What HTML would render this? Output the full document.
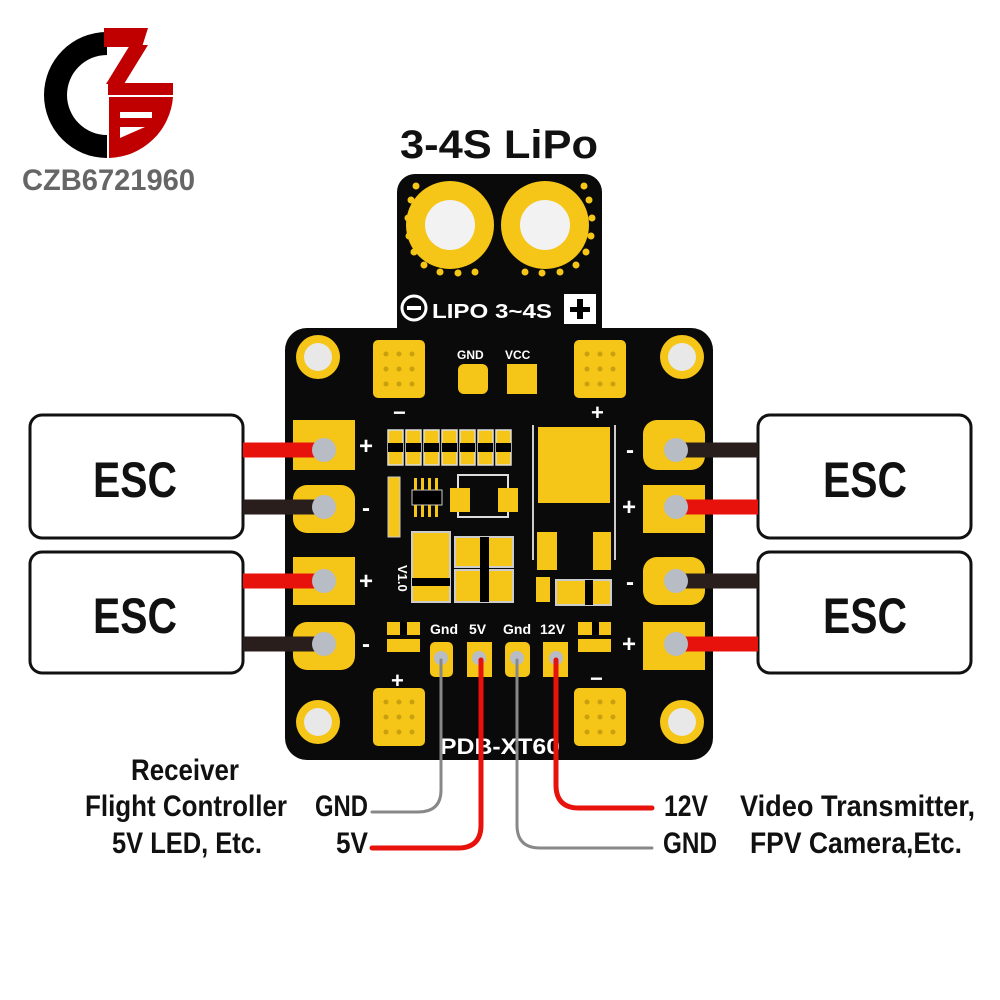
<!DOCTYPE html>
<html><head><meta charset="utf-8"><style>
html,body{margin:0;padding:0;background:#fff;width:1000px;height:1000px;overflow:hidden}
svg{display:block}
text{font-family:"Liberation Sans Narrow","Liberation Sans",sans-serif;font-weight:bold}
</style></head><body>
<svg width="1000" height="1000" viewBox="0 0 1000 1000" xmlns="http://www.w3.org/2000/svg">
<defs>
<g id="pad9">
 <rect x="0" y="0" width="52" height="58" rx="5" fill="#f5c518"/>
 <g fill="#c9a010"><circle cx="13" cy="14" r="2.5"/><circle cx="26" cy="14" r="2.5"/><circle cx="39" cy="14" r="2.5"/><circle cx="13" cy="29" r="2.5"/><circle cx="26" cy="29" r="2.5"/><circle cx="39" cy="29" r="2.5"/><circle cx="13" cy="44" r="2.5"/><circle cx="26" cy="44" r="2.5"/><circle cx="39" cy="44" r="2.5"/></g>
</g>
<g id="hole"><circle r="22" fill="#f5c518"/><circle r="14" fill="#e8e8e8"/></g>
<g id="res"><rect x="0" y="0" width="15" height="35" fill="#f5c518" stroke="#ddd" stroke-width="1.5"/><rect x="0" y="13" width="15" height="9" fill="#000"/></g>
</defs>

<!-- logo -->
<path d="M107 32 A63 63 0 0 0 107 158 L107 135 A40 40 0 0 1 107 55 Z" fill="#000"/>
<polygon points="104,28 148,28 142,47 104,47" fill="#c00000"/>
<polygon points="130,45 148,45 124,84 106,84" fill="#c00000"/>
<rect x="108" y="83" width="65" height="12" fill="#c00000"/>
<path d="M109 97 L173 97 A66 66 0 0 1 109 158 Z" fill="#c00000"/>
<rect x="120" y="112" width="32" height="6" fill="#fff"/>
<polygon points="120,127 145,127 120,138" fill="#fff"/>
<text x="22" y="190" font-size="30" fill="#666" textLength="173" lengthAdjust="spacingAndGlyphs" font-family="Liberation Sans">CZB6721960</text>

<!-- title -->
<text x="400" y="158" font-size="40" fill="#111" textLength="198" lengthAdjust="spacingAndGlyphs">3-4S LiPo</text>

<!-- board -->
<rect x="397" y="174" width="205" height="180" rx="18" fill="#0a0a0a"/>
<rect x="285" y="328" width="428" height="432" rx="22" fill="#0a0a0a"/>

<!-- rings -->
<g fill="#f5c518">
<circle cx="450" cy="225" r="44"/><circle cx="545" cy="225" r="44"/>
</g>
<circle cx="450" cy="225" r="25" fill="#f2f2f2"/><circle cx="545" cy="225" r="25" fill="#f2f2f2"/>
<g fill="#f5c518">
<circle cx="411" cy="200" r="3.5"/><circle cx="408" cy="218" r="3.5"/><circle cx="409" cy="236" r="3.5"/><circle cx="414" cy="252" r="3.5"/><circle cx="424" cy="265" r="3.5"/><circle cx="440" cy="272" r="3.5"/><circle cx="458" cy="273" r="3.5"/><circle cx="416" cy="186" r="3.5"/>
<circle cx="584" cy="186" r="3.5"/><circle cx="589" cy="200" r="3.5"/><circle cx="592" cy="218" r="3.5"/><circle cx="591" cy="236" r="3.5"/><circle cx="586" cy="252" r="3.5"/><circle cx="576" cy="265" r="3.5"/><circle cx="560" cy="272" r="3.5"/><circle cx="542" cy="273" r="3.5"/><circle cx="525" cy="272" r="3.5"/><circle cx="475" cy="272" r="3.5"/>
</g>
<circle cx="414" cy="308" r="12" fill="none" stroke="#fff" stroke-width="3"/>
<rect x="407" y="306" width="14" height="4" fill="#fff"/>
<text x="432" y="318" font-size="20" fill="#fff" font-family="Liberation Sans" textLength="120" lengthAdjust="spacingAndGlyphs">LIPO 3~4S</text>
<rect x="564" y="294" width="32" height="30" fill="#fff"/>
<rect x="570" y="307" width="20" height="5" fill="#000"/><rect x="577" y="299" width="6" height="20" fill="#000"/>

<!-- mount holes -->
<use href="#hole" x="318" y="357"/><use href="#hole" x="682" y="357"/>
<use href="#hole" x="318" y="722"/><use href="#hole" x="682" y="722"/>

<!-- top pads -->
<use href="#pad9" x="373" y="340"/><use href="#pad9" x="574" y="340"/>
<text x="457" y="359" font-size="12" fill="#fff" font-family="Liberation Sans">GND</text>
<text x="505" y="359" font-size="12" fill="#fff" font-family="Liberation Sans">VCC</text>
<rect x="458" y="364" width="30" height="30" rx="6" fill="#f5c518"/>
<rect x="507" y="364" width="30" height="30" fill="#f5c518"/>
<text x="393" y="420" font-size="22" fill="#fff">−</text>
<text x="591" y="420" font-size="22" fill="#fff">+</text>

<!-- ESC boxes -->
<rect x="30" y="415" width="213" height="123" rx="12" fill="#fff" stroke="#111" stroke-width="3"/>
<rect x="30" y="552" width="213" height="121" rx="12" fill="#fff" stroke="#111" stroke-width="3"/>
<rect x="758" y="415" width="213" height="123" rx="12" fill="#fff" stroke="#111" stroke-width="3"/>
<rect x="758" y="552" width="213" height="121" rx="12" fill="#fff" stroke="#111" stroke-width="3"/>
<text x="93" y="497" font-size="50" fill="#111" textLength="84" lengthAdjust="spacingAndGlyphs">ESC</text>
<text x="93" y="633" font-size="50" fill="#111" textLength="84" lengthAdjust="spacingAndGlyphs">ESC</text>
<text x="823" y="497" font-size="50" fill="#111" textLength="84" lengthAdjust="spacingAndGlyphs">ESC</text>
<text x="823" y="633" font-size="50" fill="#111" textLength="84" lengthAdjust="spacingAndGlyphs">ESC</text>

<!-- side pads -->
<g fill="#f5c518">
<rect x="293" y="420" width="62" height="50"/><rect x="293" y="485" width="62" height="48" rx="14"/>
<rect x="293" y="557" width="62" height="48"/><rect x="293" y="622" width="62" height="48" rx="14"/>
<rect x="643" y="420" width="62" height="50" rx="14"/><rect x="643" y="485" width="62" height="48"/>
<rect x="643" y="557" width="62" height="48" rx="14"/><rect x="643" y="622" width="62" height="48"/>
</g>
<!-- wires -->
<g stroke-width="15">
<line x1="243" y1="450" x2="322" y2="450" stroke="#e8120c"/>
<line x1="243" y1="507" x2="322" y2="507" stroke="#2a1e1c"/>
<line x1="243" y1="581" x2="322" y2="581" stroke="#e8120c"/>
<line x1="243" y1="644" x2="322" y2="644" stroke="#2a1e1c"/>
<line x1="678" y1="450" x2="758" y2="450" stroke="#2a1e1c"/>
<line x1="678" y1="507" x2="758" y2="507" stroke="#e8120c"/>
<line x1="678" y1="581" x2="758" y2="581" stroke="#2a1e1c"/>
<line x1="678" y1="644" x2="758" y2="644" stroke="#e8120c"/>
</g>
<g fill="#b8bcc4">
<circle cx="324" cy="450" r="12"/><circle cx="324" cy="507" r="12"/><circle cx="324" cy="581" r="12"/><circle cx="324" cy="644" r="12"/>
<circle cx="676" cy="450" r="12"/><circle cx="676" cy="507" r="12"/><circle cx="676" cy="581" r="12"/><circle cx="676" cy="644" r="12"/>
</g>
<g font-size="24" fill="#fff">
<text x="359" y="454">+</text><text x="362" y="516">-</text><text x="359" y="589">+</text><text x="362" y="652">-</text>
<text x="626" y="458">-</text><text x="622" y="515">+</text><text x="626" y="590">-</text><text x="622" y="652">+</text>
</g>

<!-- center components -->
<use href="#res" x="388" y="430"/><use href="#res" x="406" y="430"/><use href="#res" x="424" y="430"/><use href="#res" x="442" y="430"/><use href="#res" x="460" y="430"/><use href="#res" x="478" y="430"/><use href="#res" x="496" y="430"/>
<rect x="538" y="427" width="72" height="76" fill="#f5c518"/>
<line x1="533" y1="425" x2="533" y2="560" stroke="#ccc" stroke-width="2"/>
<line x1="615" y1="425" x2="615" y2="560" stroke="#ccc" stroke-width="2"/>
<rect x="388" y="477" width="12" height="60" fill="#f5c518" stroke="#ccc"/>
<rect x="412" y="490" width="30" height="15" fill="#000" stroke="#ccc"/>
<g fill="#f5c518"><rect x="414" y="478" width="3" height="12"/><rect x="421" y="478" width="3" height="12"/><rect x="428" y="478" width="3" height="12"/><rect x="435" y="478" width="3" height="12"/><rect x="414" y="505" width="3" height="12"/><rect x="421" y="505" width="3" height="12"/><rect x="428" y="505" width="3" height="12"/><rect x="435" y="505" width="3" height="12"/></g>
<rect x="458" y="475" width="50" height="42" fill="none" stroke="#ddd" stroke-width="2"/>
<rect x="450" y="488" width="20" height="24" fill="#f5c518"/><rect x="498" y="488" width="20" height="24" fill="#f5c518"/>
<rect x="412" y="532" width="38" height="70" fill="#f5c518" stroke="#ccc" stroke-width="2"/>
<rect x="412" y="578" width="38" height="8" fill="#000"/>
<rect x="455" y="537" width="58" height="30" fill="#f5c518" stroke="#ccc" stroke-width="2"/>
<rect x="455" y="570" width="58" height="32" fill="#f5c518" stroke="#ccc" stroke-width="2"/>
<rect x="480" y="537" width="9" height="65" fill="#000"/>
<rect x="537" y="532" width="20" height="38" fill="#f5c518"/><rect x="593" y="532" width="18" height="38" fill="#f5c518"/>
<rect x="536" y="577" width="14" height="25" fill="#f5c518"/>
<rect x="556" y="580" width="55" height="25" fill="#f5c518" stroke="#ccc" stroke-width="2"/>
<rect x="585" y="580" width="8" height="25" fill="#000"/>
<text x="398" y="565" font-size="13" fill="#fff" transform="rotate(90 398 565)" font-family="Liberation Sans">V1.0</text>
<!-- small resistors bottom -->
<g fill="#f5c518"><rect x="387" y="622" width="33" height="13"/><rect x="387" y="639" width="33" height="13"/><rect x="578" y="622" width="33" height="13"/><rect x="578" y="639" width="33" height="13"/></g>
<rect x="400" y="622" width="7" height="13" fill="#000"/><rect x="592" y="622" width="7" height="13" fill="#000"/>
<g font-size="14" fill="#fff" font-family="Liberation Sans">
<text x="430" y="634">Gnd</text><text x="469" y="634">5V</text><text x="503" y="634">Gnd</text><text x="540" y="634">12V</text>
</g>
<g fill="#f5c518"><rect x="430" y="642" width="23" height="35" rx="5"/><rect x="467" y="642" width="25" height="35"/><rect x="505" y="642" width="25" height="35" rx="5"/><rect x="543" y="642" width="25" height="35"/></g>
<g fill="#b8bcc4"><circle cx="441" cy="658" r="7"/><circle cx="479" cy="658" r="7"/><circle cx="517" cy="658" r="7"/><circle cx="556" cy="658" r="7"/></g>
<!-- bottom pads -->
<use href="#pad9" x="373" y="688"/><use href="#pad9" x="574" y="688"/>
<text x="391" y="688" font-size="22" fill="#fff">+</text>
<text x="590" y="686" font-size="22" fill="#fff">−</text>
<text x="440" y="754" font-size="22" fill="#fff" textLength="120" lengthAdjust="spacingAndGlyphs" font-family="Liberation Sans">PDB-XT60</text>

<!-- output wires -->
<g fill="none" stroke-linecap="round">
<path d="M441 660 L441 790 Q441 812 418 812 L372 812" stroke="#888" stroke-width="3"/>
<path d="M517 660 L517 825 Q517 848 540 848 L652 848" stroke="#888" stroke-width="3"/>
<path d="M481 660 L481 825 Q481 848 458 848 L372 848" stroke="#e8120c" stroke-width="5"/>
<path d="M556 660 L556 785 Q556 808 579 808 L652 808" stroke="#e8120c" stroke-width="5"/>
</g>

<g font-size="30" fill="#111">
<text x="185" y="780" text-anchor="middle" textLength="108" lengthAdjust="spacingAndGlyphs">Receiver</text>
<text x="85" y="816" textLength="202" lengthAdjust="spacingAndGlyphs">Flight Controller</text>
<text x="112" y="853" textLength="150" lengthAdjust="spacingAndGlyphs">5V LED, Etc.</text>
<text x="315" y="816" textLength="53" lengthAdjust="spacingAndGlyphs">GND</text>
<text x="336" y="853" textLength="32" lengthAdjust="spacingAndGlyphs">5V</text>
<text x="664" y="816" textLength="44" lengthAdjust="spacingAndGlyphs">12V</text>
<text x="663" y="853" textLength="54" lengthAdjust="spacingAndGlyphs">GND</text>
<text x="740" y="816" textLength="235" lengthAdjust="spacingAndGlyphs">Video Transmitter,</text>
<text x="750" y="853" textLength="212" lengthAdjust="spacingAndGlyphs">FPV Camera,Etc.</text>
</g>
</svg>
</body></html>
